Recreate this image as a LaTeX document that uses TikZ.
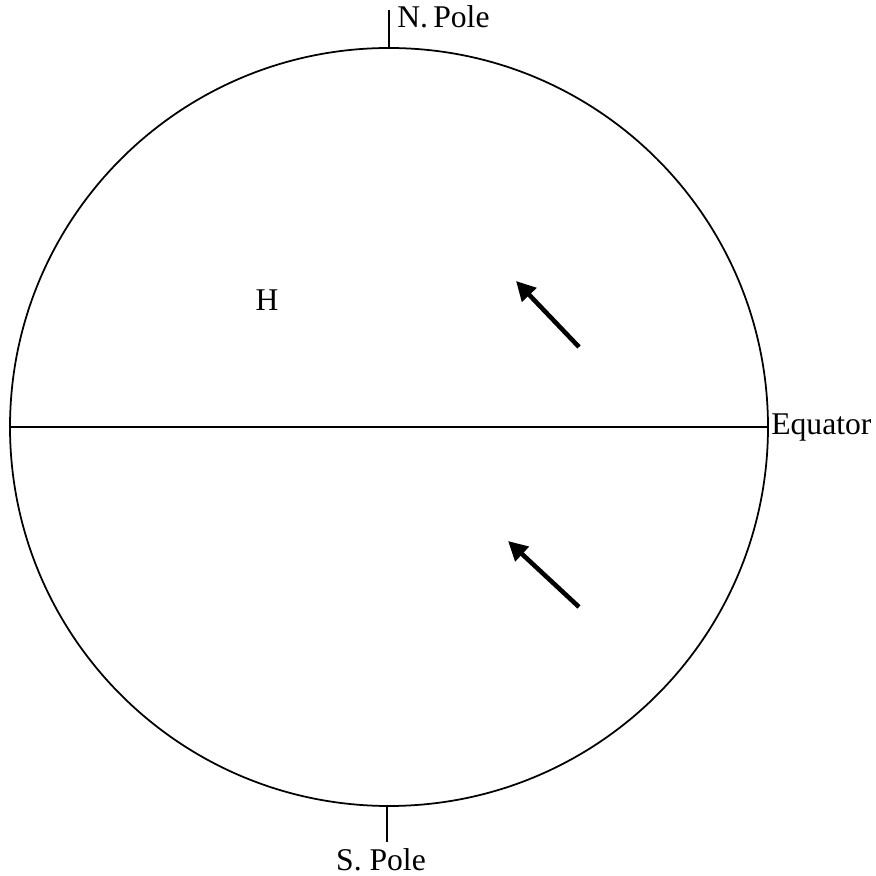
\documentclass[tikz,border=0pt]{standalone}
\usepackage{fontspec}
\setmainfont{Liberation Serif}
\usepackage{tikz}
\usetikzlibrary{arrows.meta, positioning}

\tikzset{
  lbl/.style={inner sep=0pt, font=\fontsize{18}{20}\selectfont},
  rim/.style={line width=1pt},
  wind/.style={line width=2.6pt, -{Triangle[length=11pt,width=11pt]}},
}

\begin{document}
\begin{tikzpicture}[x=0.02cm,y=0.02cm]
        \useasboundingbox (0,0) rectangle (876,876);
        \coordinate (c) at (389,449);
        \draw[rim] (c) circle (379);
        \coordinate (eqW) at (9,449);
        \coordinate (eqE) at (768,449);
        \draw[rim] (eqW) -- (eqE);
        \node[lbl, anchor=base west] (eq) at (771,441) {Equator};
        \coordinate (nTop) at (389,866);
        \coordinate (nBot) at (389,828);
        \draw[rim] (nTop) -- (nBot);
        \node[lbl, anchor=base west] (np) at (397,848) {N.\,Pole};
        \coordinate (sTop) at (387,70);
        \coordinate (sBot) at (387,34);
        \draw[rim] (sTop) -- (sBot);
        \node[lbl, anchor=base] (sp) at (381,6) {S. Pole};
        \node[lbl, anchor=base] (h) at (267,565) {H};
        % winds
        \coordinate (aTail) at (579,529);
        \coordinate (aTip) at (516,595);
        \draw[wind] (aTail) -- (aTip);
        \coordinate (bTail) at (579,269);
        \coordinate (bTip) at (508,335);
        \draw[wind] (bTail) -- (bTip);
      \end{tikzpicture}
\end{document}
